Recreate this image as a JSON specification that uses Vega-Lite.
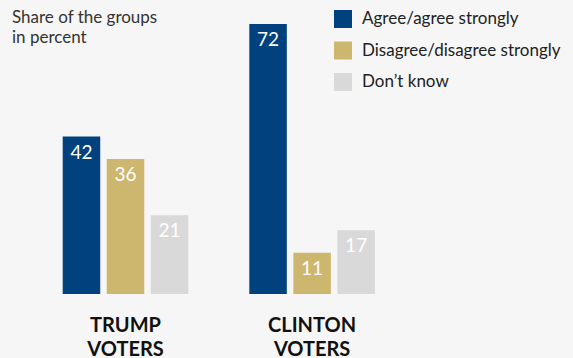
{
  "$schema": "https://vega.github.io/schema/vega-lite/v6.json",
  "autosize": "none",
  "width": 437.6,
  "height": 270,
  "padding": {"left": 0, "top": 24, "right": 135.4, "bottom": 64},
  "background": "#f6f6f6",
  "config": {"view": {"stroke": null}, "font": "Lato"},
  "title": {
    "text": ["Share of the groups", "in percent"],
    "anchor": "start",
    "frame": "group",
    "orient": "top",
    "baseline": "top",
    "offset": -37,
    "dx": 12,
    "fontSize": 17,
    "fontWeight": "normal",
    "font": "Lato",
    "color": "#333333",
    "lineHeight": 20
  },
  "data": {
    "values": [
      {"group": "TRUMP VOTERS", "response": "Agree/agree strongly", "value": 42},
      {"group": "TRUMP VOTERS", "response": "Disagree/disagree strongly", "value": 36},
      {"group": "TRUMP VOTERS", "response": "Don’t know", "value": 21},
      {"group": "CLINTON VOTERS", "response": "Agree/agree strongly", "value": 72},
      {"group": "CLINTON VOTERS", "response": "Disagree/disagree strongly", "value": 11},
      {"group": "CLINTON VOTERS", "response": "Don’t know", "value": 17}
    ]
  },
  "encoding": {
    "x": {
      "field": "group",
      "type": "nominal",
      "sort": ["TRUMP VOTERS", "CLINTON VOTERS"],
      "scale": {"paddingInner": 0.327, "paddingOuter": 0.336},
      "axis": {
        "title": null,
        "domain": false,
        "ticks": false,
        "labelAngle": 0,
        "labelExpr": "split(datum.label, ' ')",
        "labelFont": "Lato",
        "labelFontSize": 20,
        "labelFontWeight": "bold",
        "labelColor": "#111111",
        "labelLineHeight": 24,
        "labelPadding": 21
      }
    },
    "xOffset": {
      "field": "response",
      "type": "nominal",
      "sort": ["Agree/agree strongly", "Disagree/disagree strongly", "Don’t know"],
      "scale": {"paddingInner": 0.148, "paddingOuter": 0}
    },
    "y": {
      "field": "value",
      "type": "quantitative",
      "scale": {"domain": [0, 72], "nice": false, "zero": true},
      "axis": null
    }
  },
  "layer": [
    {
      "mark": {"type": "bar"},
      "encoding": {
        "color": {
          "field": "response",
          "type": "nominal",
          "scale": {
            "domain": ["Agree/agree strongly", "Disagree/disagree strongly", "Don’t know"],
            "range": ["#00417e", "#cdb66e", "#d9d9d9"]
          },
          "legend": {
            "title": null,
            "orient": "none",
            "legendX": 334,
            "legendY": -14,
            "symbolType": "square",
            "symbolSize": 324,
            "symbolStrokeWidth": 0,
            "symbolOpacity": 1,
            "labelFont": "Lato",
            "labelFontSize": 17,
            "labelColor": "#222222",
            "labelOffset": 10,
            "rowPadding": 13.5,
            "labelLimit": 300
          }
        }
      }
    },
    {
      "mark": {
        "type": "text",
        "align": "center",
        "baseline": "alphabetic",
        "dy": 22,
        "font": "Lato",
        "fontSize": 19,
        "color": "#ffffff"
      },
      "encoding": {"text": {"field": "value", "type": "quantitative"}}
    }
  ]
}
